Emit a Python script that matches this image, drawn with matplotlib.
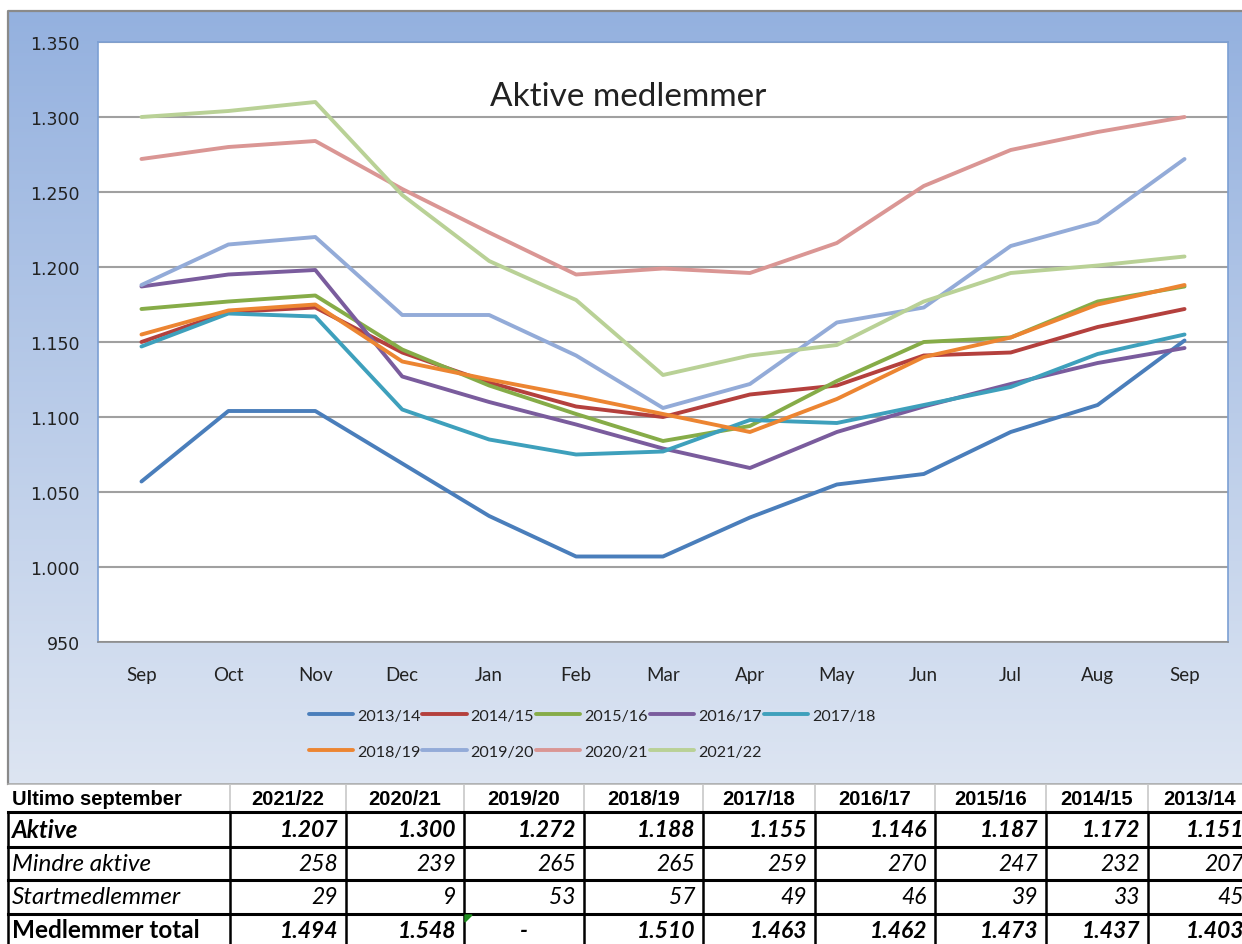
import numpy as np
import matplotlib.pyplot as plt
from matplotlib.colors import LinearSegmentedColormap
from matplotlib.ticker import FuncFormatter, MultipleLocator

# --- data --------------------------------------------------------------
months = ["Sep", "Oct", "Nov", "Dec", "Jan", "Feb", "Mar",
          "Apr", "May", "Jun", "Jul", "Aug", "Sep"]

seasons = ["2013/14", "2014/15", "2015/16", "2016/17", "2017/18",
           "2018/19", "2019/20", "2020/21", "2021/22"]

s_2013_14 = [1057, 1104, 1104, 1069, 1034, 1007, 1007, 1033, 1055, 1062, 1090, 1108, 1151]
s_2014_15 = [1150, 1170, 1173, 1143, 1123, 1107, 1100, 1115, 1121, 1141, 1143, 1160, 1172]
s_2015_16 = [1172, 1177, 1181, 1145, 1121, 1102, 1084, 1094, 1124, 1150, 1153, 1177, 1187]
s_2016_17 = [1187, 1195, 1198, 1127, 1110, 1095, 1079, 1066, 1090, 1107, 1122, 1136, 1146]
s_2017_18 = [1147, 1169, 1167, 1105, 1085, 1075, 1077, 1098, 1096, 1108, 1120, 1142, 1155]
s_2018_19 = [1155, 1171, 1175, 1137, 1125, 1114, 1102, 1090, 1112, 1140, 1153, 1175, 1188]
s_2019_20 = [1188, 1215, 1220, 1168, 1168, 1141, 1106, 1122, 1163, 1173, 1214, 1230, 1272]
s_2020_21 = [1272, 1280, 1284, 1252, 1223, 1195, 1199, 1196, 1216, 1254, 1278, 1290, 1300]
s_2021_22 = [1300, 1304, 1310, 1248, 1204, 1178, 1128, 1141, 1148, 1177, 1196, 1201, 1207]

# table below the chart
table_years = ["2021/22", "2020/21", "2019/20", "2018/19", "2017/18",
               "2016/17", "2015/16", "2014/15", "2013/14"]
table_aktive = [1207, 1300, 1272, 1188, 1155, 1146, 1187, 1172, 1151]
table_mindre = [258, 239, 265, 265, 259, 270, 247, 232, 207]
table_start = [29, 9, 53, 57, 49, 46, 39, 33, 45]
table_total = [1494, 1548, None, 1510, 1463, 1462, 1473, 1437, 1403]

series = [s_2013_14, s_2014_15, s_2015_16, s_2016_17, s_2017_18,
          s_2018_19, s_2019_20, s_2020_21, s_2021_22]
colors = ["#4A7EBB", "#B4403D", "#86AC48", "#7A5C9D", "#3EA0BC",
          "#EC8532", "#93ABD8", "#DA9694", "#B9D196"]

W, H = 1242, 945


def dk(v):
    return f"{v:,.0f}".replace(",", ".")


fig = plt.figure(figsize=(W / 100, H / 100), dpi=100)
fig.patch.set_facecolor("white")

# background layer in pixel coordinates (gradient frame + table)
bg = fig.add_axes([0, 0, 1, 1], zorder=0)
bg.set_xlim(0, W)
bg.set_ylim(H, 0)
bg.axis("off")
grad = LinearSegmentedColormap.from_list("g", ["#94B1DF", "#DDE5F2"])
bg.imshow(np.linspace(0, 1, 256).reshape(-1, 1), cmap=grad, aspect="auto",
          extent=[8, 1260, 785, 12], zorder=0)
bg.plot([8, 8, 1260], [785, 12, 12], color="#8A8A8A", lw=1.6, zorder=1)
bg.plot([8, 1260], [785, 785], color="#A8A8A8", lw=1.2, zorder=1)

# --- line chart ----------------------------------------------------------
ax = fig.add_axes([98 / W, 1 - 643 / H, (1228 - 98) / W, 600 / H], zorder=2)
ax.set_facecolor("white")
x = np.arange(len(months))
for vals, col, lab in zip(series, colors, seasons):
    ax.plot(x, vals, color=col, lw=2.8, label=lab,
            solid_joinstyle="round", solid_capstyle="round")

ax.set_xlim(-0.5, len(months) - 0.5)
ax.set_ylim(950, 1350)
ax.yaxis.set_major_locator(MultipleLocator(50))
ax.yaxis.set_major_formatter(FuncFormatter(lambda v, p: dk(v)))
ax.set_xticks(x)
ax.set_xticklabels(months, fontfamily="Lato", fontsize=13.5, color="#222222")
ax.tick_params(axis="x", length=0, pad=17)
ax.tick_params(axis="y", length=0, pad=13, labelsize=12.5, labelcolor="#222222")
ax.grid(axis="y", color="#A0A0A0", lw=1.5)
ax.set_axisbelow(True)
for side in ["left", "top", "right"]:
    ax.spines[side].set_color("#7C9FD3")
    ax.spines[side].set_linewidth(1.2)
ax.spines["bottom"].set_color("#8C8C8C")
ax.spines["bottom"].set_linewidth(1.2)

ax.text(0.469, 0.91, "Aktive medlemmer", transform=ax.transAxes,
        ha="center", va="center", fontsize=24, family="Lato", color="#222222")

# legend: reorder so it reads row by row
handles, labels = ax.get_legend_handles_labels()
order = [0, 5, 1, 6, 2, 7, 3, 8, 4]
leg = fig.legend([handles[i] for i in order], [labels[i] for i in order],
                 ncol=5, loc="upper left", bbox_to_anchor=(294 / W, 1 - 695 / H),
                 frameon=False, handlelength=2.75, handletextpad=0.25,
                 columnspacing=0.12, labelspacing=1.35,
                 prop={"family": "Lato", "size": 11.6})
for t in leg.get_texts():
    t.set_color("#222222")

# --- table ---------------------------------------------------------------
col_edges = [8, 230, 346, 464, 584, 703, 815, 935, 1046, 1148, 1252]
row_edges = [786, 813, 848, 881, 915, 960]
row_mid = [(row_edges[i] + row_edges[i + 1]) / 2 for i in range(4)] + [931]

bg.fill_between([8, W], 786, H, color="white", zorder=2)

# header separators (light grid)
for xe in col_edges[1:]:
    bg.plot([xe, xe], [786, 813], color="#C8C8C8", lw=1.2, zorder=3)
# body grid (black)
for ye in row_edges[1:5]:
    bg.plot([8, W], [ye, ye], color="black", lw=2.2, zorder=4)
for xe in col_edges:
    bg.plot([xe, xe], [813, H], color="black", lw=1.8, zorder=4)

hdr = dict(family="Liberation Sans", weight="bold", fontsize=14.5, va="center", zorder=5)
bg.text(12, row_mid[0], "Ultimo september", ha="left", **hdr)
for i, yr in enumerate(table_years):
    bg.text((col_edges[i + 1] + col_edges[i + 2]) / 2, row_mid[0], yr, ha="center", **hdr)

rows = [("Aktive", table_aktive, "bold", "italic", "italic"),
        ("Mindre aktive", table_mindre, "normal", "italic", "italic"),
        ("Startmedlemmer", table_start, "normal", "italic", "italic"),
        ("Medlemmer total", table_total, "bold", "normal", "italic")]
for r, (lab, vals, wt, lab_style, val_style) in enumerate(rows):
    ym = row_mid[r + 1]
    bg.text(12, ym, lab, ha="left", va="center", family="Lato", fontsize=17.5,
            weight=wt, style=lab_style, zorder=5)
    for i, v in enumerate(vals):
        txt = "-" if v is None else dk(v)
        xpos = (col_edges[i + 1] + col_edges[i + 2]) / 2 if v is None else col_edges[i + 2] - 8
        bg.text(xpos, ym, txt, ha="center" if v is None else "right", va="center",
                family="Lato", fontsize=16.5, weight=wt, style=val_style, zorder=5)

# excel error indicator in the empty total cell
bg.fill([465, 472, 465], [916, 916, 923], color="#1E8C1E", zorder=6)

fig.savefig("out.png", dpi=100)
